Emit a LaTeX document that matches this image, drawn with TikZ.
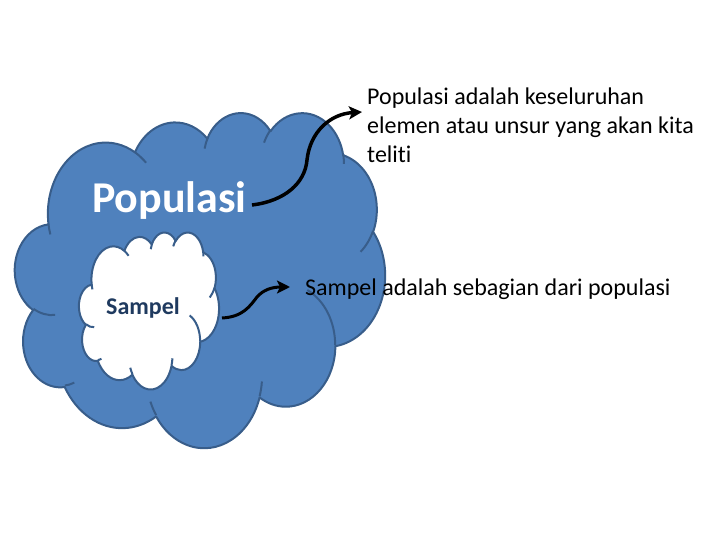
\documentclass[tikz,border=0pt]{standalone}
\usepackage{fontspec}
\setmainfont{Carlito}[Ligatures=NoCommon]
\usetikzlibrary{arrows.meta}
\definecolor{cloudfill}{HTML}{4F81BD}
\definecolor{cloudline}{HTML}{385D8A}
\definecolor{sampeltext}{HTML}{1F3A5F}
\newcommand\oarc[4]{arc[x radius=#1, y radius=#2, start angle={oot(#3,#1,#2)}, end angle={oot(#3+#4,#1,#2)}]}
\newcommand\cloudpath{%
  (3.9,14.37) \oarc{6.753}{9.19}{-190.48748}{123.78053}
  \oarc{5.333}{7.267}{-144.10238}{89.94523}
  \oarc{4.365}{5.945}{-145.80792}{99.72302}
  \oarc{4.857}{6.595}{-130.98607}{117.24173}
  \oarc{5.333}{7.273}{-78.70888}{109.02692}
  \oarc{6.775}{9.22}{-46.26725}{130.269}
  \oarc{5.785}{7.867}{0.62502}{114.03333}
  \oarc{6.752}{9.215}{22.4516}{115.17255}
  \oarc{7.72}{10.543}{66.24263}{75.71102}
  \oarc{4.36}{5.918}{-274.94208}{146.73557}
  \oarc{4.345}{5.945}{-246.8285}{152.51885} -- cycle}
\newcommand\cloudinner{%
  (4.693,26.177) \oarc{4.345}{5.945}{86.742}{26.4295}
  (6.928,34.899) \oarc{4.36}{5.918}{73.61047}{11.44747}
  (16.478,39.09) \oarc{6.752}{9.215}{137.62415}{14.0811}
  (28.827,34.751) \oarc{6.752}{9.215}{6.45327}{15.99835}
  (34.129,22.954) \oarc{5.785}{7.867}{-70.29235}{70.91737}
  (41.798,15.354) \oarc{5.333}{7.273}{30.31803}{27.7515}
  (38.324,5.426) \oarc{4.857}{6.595}{-13.74433}{14.8589}
  (29.078,3.952) \oarc{4.857}{6.595}{-149.18145}{18.19537}
  (22.141,4.72) \oarc{4.365}{5.945}{-163.49427}{17.68635}
  (14.0,5.192) \oarc{6.753}{9.19}{-66.70695}{12.31935}
  (4.127,15.789) \oarc{6.753}{9.19}{157.65435}{11.85817}}
\tikzset{
  cloudedge/.style={draw=cloudline, line width=2pt, line join=round},
  bodytext/.style={font=\fontsize{24}{29}\selectfont, text=black, inner sep=0pt, anchor=base west, align=left},
  arrowline/.style={line width=3.5pt, -{Stealth[length=13pt,width=13pt,inset=3pt]}, black},
}
\begin{document}
\begin{tikzpicture}[x=1pt, y=-1pt,
  declare function={oot(\th,\a,\b)=atan2(\a*sin(\th),\b*cos(\th))+360*round((\th-atan2(\a*sin(\th),\b*cos(\th)))/360);}]
\useasboundingbox (0,0) rectangle (720,540);
% big cloud
\begin{scope}[shift={(15,112)}, xscale=370/43.2, yscale=335/43.2]
  \path[fill=cloudfill, cloudedge] \cloudpath;
  \path[cloudedge] \cloudinner;
\end{scope}
% small cloud
\begin{scope}[shift={(79,232)}, xscale=140/43.2, yscale=157/43.2]
  \path[fill=white, cloudedge] \cloudpath;
  \path[cloudedge] \cloudinner;
\end{scope}
\node[font=\fontsize{44}{53}\selectfont\bfseries, text=white, inner sep=0pt, anchor=base west] (pop) at (92,213) {Populasi};
\node[font=\fontsize{24}{29}\selectfont\bfseries, text=sampeltext, inner sep=0pt, anchor=base west] (samp) at (106,314) {Sampel};
\node[bodytext] (popdef) at (367,163) {Populasi adalah keseluruhan\\elemen atau unsur yang akan kita\\teliti};
\node[bodytext] (sampdef) at (305,295) {Sampel adalah sebagian dari populasi};
\coordinate (a1s) at (252,205);
\coordinate (a1e) at (362,112);
\coordinate (a2s) at (222,318);
\coordinate (a2e) at (290,287);
\draw[arrowline] (a1s) .. controls (285,201) and (305,183) .. (307,160) .. controls (310,132) and (330,114) .. (a1e);
\draw[arrowline, line width=3pt] (a2s) .. controls (243,317) and (250,306) .. (257,297) .. controls (263,290) and (272,287) .. (a2e);
\end{tikzpicture}
\end{document}
